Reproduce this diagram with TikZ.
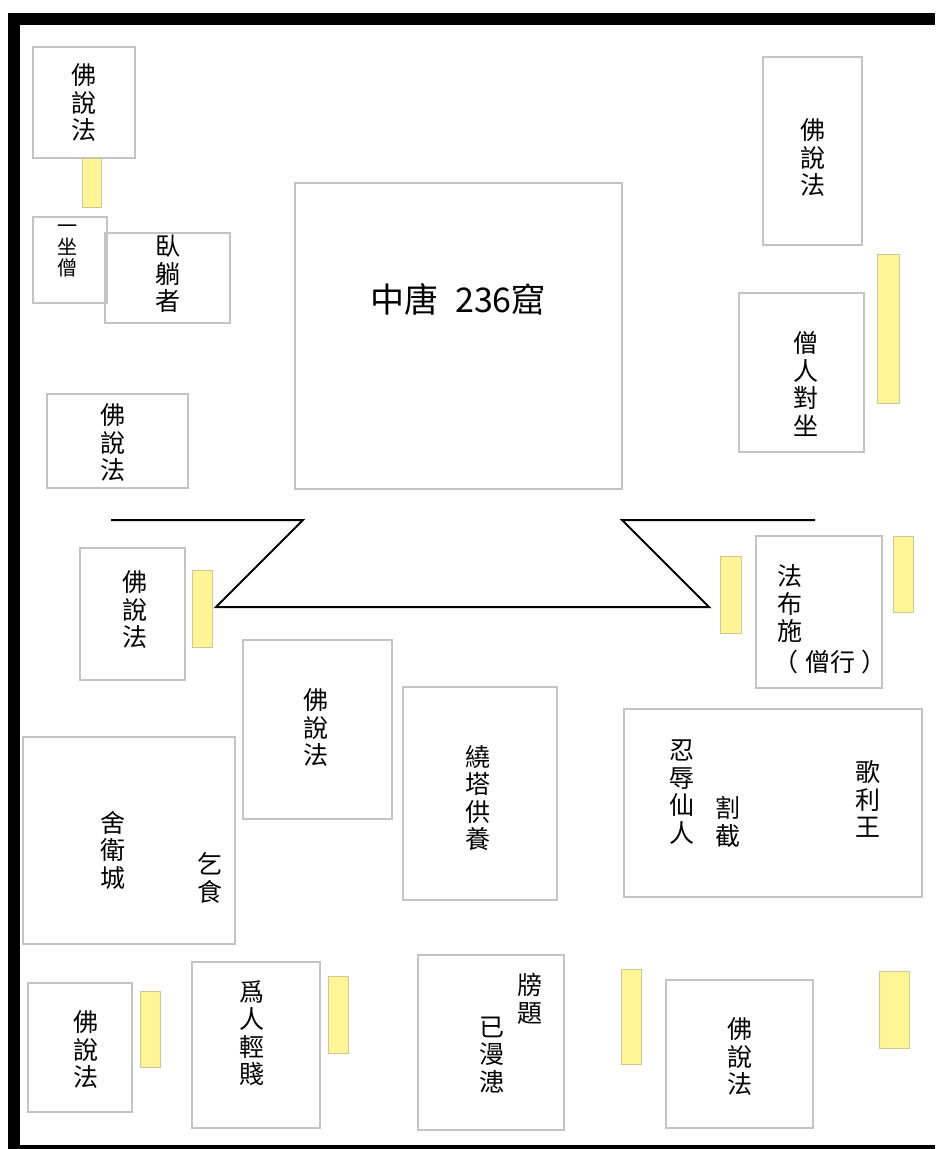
\documentclass[tikz,border=0pt]{standalone}
\usepackage{fontspec}
\setmainfont{Noto Sans CJK TC}
\begin{document}
\begin{tikzpicture}[x=1pt,y=-1pt,
  box/.style={draw={rgb,255:red,196;green,196;blue,196},line width=1.2pt},
  tag/.style={fill={rgb,255:red,255;green,244;blue,150},draw={rgb,255:red,205;green,200;blue,150},line width=0.8pt},
  vt/.style={align=center,inner sep=0pt,font=\fontsize{25}{27.5}\selectfont},
  vts/.style={align=center,inner sep=0pt,font=\fontsize{20}{21}\selectfont},
  wall/.style={line width=2pt,line join=miter}]
\useasboundingbox (0,0) rectangle (935,1149);
% frame
\fill[black] (8,13) rectangle (935,25);
\fill[black] (8,13) rectangle (20,1149);
\fill[black] (8,1145) rectangle (935,1149);
% main box
\draw[box] (295,183) rectangle (622,489);
\node[inner sep=0pt,font=\fontsize{34}{34}\selectfont] (title) at (458,299) {中唐\hspace{0.5em}236窟};
% walls
\coordinate (w1) at (111,520); \coordinate (w2) at (303,520);
\coordinate (w3) at (216,607); \coordinate (w4) at (709,607);
\coordinate (w5) at (622,520); \coordinate (w6) at (815,520);
\draw[wall] (w1) -- (w2) -- (w3) -- (w4) -- (w5) -- (w6);
% top-left
\draw[box] (33,47) rectangle (135,158);
\node[vt] (t1) at (84,103) {佛\\說\\法};
\draw[tag] (82,158) rectangle (101,207);
\draw[box] (33,217) rectangle (107,303);
\node[vts] (t2) at (67,251) {一\\坐\\僧};
\draw[box] (105,233) rectangle (230,323);
\node[vt] (t3) at (168,274) {臥\\躺\\者};
\draw[box] (47,394) rectangle (188,488);
\node[vt] (t4) at (113,443) {佛\\說\\法};
% top-right
\draw[box] (763,57) rectangle (862,245);
\node[vt] (t5) at (813,158) {佛\\說\\法};
\draw[tag] (877,254) rectangle (899,403);
\draw[box] (739,293) rectangle (864,452);
\node[vt] (t6) at (806,384) {僧\\人\\對\\坐};
% middle row
\draw[box] (80,548) rectangle (185,680);
\node[vt] (t7) at (135,610) {佛\\說\\法};
\draw[tag] (192,570) rectangle (212,647);
\draw[tag] (720,556) rectangle (741,633);
\draw[box] (756,536) rectangle (882,688);
\node[vt] (t8) at (790,604) {法\\布\\施};
\node[vt] (t8b) at (830,662) {（\hspace{0.25em}僧行\hspace{0.25em}）};
\draw[tag] (893,536) rectangle (913,612);
\draw[box] (243,640) rectangle (392,819);
\node[vt] (t9) at (316,728) {佛\\說\\法};
\draw[box] (403,687) rectangle (557,900);
\node[vt] (t10) at (478,798) {繞\\塔\\供\\養};
\draw[box] (23,737) rectangle (235,944);
\node[vt] (t11) at (113,850) {舍\\衛\\城};
\node[vt] (t12) at (210,878) {乞\\食};
\draw[box] (624,709) rectangle (922,897);
\node[vt] (t13) at (682,792) {忍\\辱\\仙\\人};
\node[vt] (t14) at (728,822) {割\\截};
\node[vt] (t15) at (868,799) {歌\\利\\王};
% bottom row
\draw[box] (28,983) rectangle (132,1112);
\node[vt] (t16) at (86,1050) {佛\\說\\法};
\draw[tag] (140,991) rectangle (160,1067);
\draw[box] (192,962) rectangle (320,1128);
\node[vt] (t17) at (252,1033) {爲\\人\\輕\\賤};
\draw[tag] (328,976) rectangle (348,1053);
\draw[box] (418,955) rectangle (564,1130);
\node[vt] (t18) at (530,999) {牓\\題};
\node[vt] (t19) at (492,1055) {已\\漫\\漶};
\draw[tag] (621,969) rectangle (641,1064);
\draw[box] (666,980) rectangle (813,1128);
\node[vt] (t20) at (740,1057) {佛\\說\\法};
\draw[tag] (879,971) rectangle (909,1048);
\end{tikzpicture}
\end{document}
